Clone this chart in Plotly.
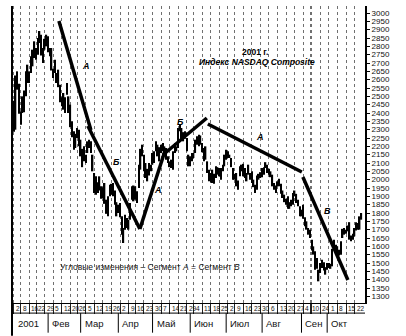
import plotly.graph_objects as go

# ---- data (NASDAQ Composite, daily bars Jan 2 – Oct 26, 2001; x = trading-day index) ----
day_high = [2474, 2625, 2650, 2575, 2410, 2500, 2535, 2650, 2690, 2650,
            2740, 2780, 2830, 2790, 2850, 2892, 2870, 2790, 2845, 2870,
            2860, 2790, 2790, 2665, 2720, 2640, 2660, 2570, 2495, 2520,
            2495, 2580, 2500, 2450, 2350, 2290, 2275, 2310, 2300, 2240,
            2185, 2200, 2150, 2230, 2240, 2230, 2150, 2040, 2020, 1985,
            2020, 1960, 1955, 1980, 1880, 1900, 1970, 1975, 1980, 1935,
            1865, 1850, 1860, 1780, 1710, 1790, 1770, 1760, 1860, 1960,
            1965, 1960, 1930, 2090, 2185, 2210, 2150, 2100, 2065, 2100,
            2090, 2160, 2170, 2230, 2210, 2195, 2210, 2220, 2200, 2190,
            2140, 2110, 2120, 2170, 2220, 2200, 2310, 2330, 2310, 2285,
            2290, 2250, 2150, 2140, 2160, 2160, 2240, 2260, 2270, 2265,
            2220, 2190, 2200, 2110, 2060, 2040, 2060, 2035, 2080, 2075,
            2070, 2070, 2090, 2150, 2180, 2170, 2150, 2130, 2070, 2035,
            2040, 1995, 2080, 2090, 2095, 2070, 2040, 2090, 2040, 2050,
            2000, 1970, 2025, 2035, 2045, 2070, 2075, 2105, 2090, 2065,
            2050, 2030, 1980, 1965, 1990, 2005, 1975, 1935, 1910, 1885,
            1900, 1865, 1880, 1920, 1935, 1915, 1880, 1840, 1820, 1850,
            1775, 1750, 1710, 1700, 1640, 1600, 1570, 1530, 1460, 1500,
            1520, 1505, 1475, 1500, 1500, 1495, 1585, 1640, 1610, 1600,
            1580, 1630, 1705, 1710, 1700, 1725, 1745, 1665, 1675, 1710,
            1745, 1740, 1780, 1800]
day_low = [2288, 2300, 2540, 2395, 2330, 2400, 2405, 2500, 2580, 2580,
           2640, 2680, 2730, 2720, 2750, 2820, 2745, 2700, 2780, 2800,
           2765, 2740, 2655, 2610, 2640, 2580, 2555, 2465, 2440, 2420,
           2400, 2510, 2400, 2315, 2255, 2180, 2190, 2250, 2200, 2140,
           2075, 2110, 2100, 2160, 2190, 2160, 2050, 1920, 1910, 1920,
           1935, 1885, 1890, 1855, 1795, 1780, 1900, 1910, 1900, 1850,
           1780, 1800, 1775, 1670, 1620, 1700, 1710, 1700, 1760, 1880,
           1870, 1880, 1860, 1950, 2060, 2140, 2050, 2010, 1990, 2025,
           2050, 2090, 2100, 2170, 2140, 2110, 2160, 2170, 2150, 2120,
           2100, 2075, 2070, 2060, 2160, 2170, 2190, 2290, 2240, 2230,
           2245, 2170, 2080, 2080, 2110, 2130, 2160, 2210, 2200, 2210,
           2165, 2110, 2120, 2040, 1990, 1985, 1980, 1975, 2010, 2030,
           2020, 2000, 2050, 2080, 2120, 2130, 2130, 2075, 2000, 2000,
           1960, 1940, 2020, 2050, 2020, 2010, 1990, 2030, 2000, 1980,
           1955, 1920, 1940, 2000, 2010, 2015, 2030, 2070, 2040, 2030,
           2015, 1960, 1940, 1920, 1960, 1960, 1915, 1890, 1865, 1850,
           1825, 1825, 1840, 1850, 1900, 1860, 1840, 1780, 1780, 1765,
           1720, 1700, 1670, 1650, 1575, 1550, 1460, 1465, 1390, 1440,
           1470, 1455, 1430, 1460, 1470, 1465, 1480, 1580, 1565, 1560,
           1545, 1550, 1650, 1670, 1675, 1690, 1640, 1630, 1640, 1660,
           1695, 1700, 1700, 1760]
day_index = list(range(len(day_high)))

# week-start trading-day indices and their day-of-month labels
week_idx = [0, 4, 9, 13, 18, 23, 28, 33, 37, 42, 47, 52, 57, 62, 67, 71, 76, 81,
            86, 91, 96, 101, 105, 110, 115, 120, 125, 129, 134, 139, 144, 149,
            154, 159, 164, 169, 173, 174, 179, 184, 189, 194, 199]
week_lbl = ["2", "8", "16", "22", "29", "5", "12", "20", "26", "5", "12", "19",
            "26", "2", "9", "16", "23", "30", "7", "14", "21", "29", "4", "11",
            "18", "25", "2", "9", "16", "23", "30", "6", "13", "20", "27", "4",
            "10", "", "24", "1", "8", "15", "22"]

# month starts (trading-day index) and names
month_idx = [0, 21, 40, 62, 82, 104, 125, 146, 169, 184]
month_lbl = ["2001", "Фев", "Мар", "Апр", "Май", "Июн", "Июл", "Авг", "Сен", "Окт"]

# y ticks
y_ticks = list(range(1300, 3001, 50))

# hand-drawn angle segments: (x0, y0, x1, y1) in (day index, price)
seg_x0 = [26.3, 43.2, 73.6, 87.0, 113.3, 168.8]
seg_y0 = [2952, 2322, 1704, 2148, 2334, 2016]
seg_x1 = [45.0, 73.6, 88.8, 112.7, 168.2, 195.1]
seg_y1 = [2298, 1704, 2190, 2370, 2046, 1398]
seg_lbl = ["A", "Б", "A", "Б", "A", "В"]
seg_lbl_x = [42.0, 60.2, 84.1, 97.5, 143.7, 183.4]
seg_lbl_y = [2682, 2106, 1938, 2346, 2256, 1812]

# ---- figure ----
bar_span = [h - l for h, l in zip(day_high, day_low)]
fig = go.Figure(go.Bar(x=day_index, y=bar_span, base=day_low, width=0.85,
                       marker=dict(color="black", line=dict(width=0))))

narrow = "Liberation Sans Narrow, Arial Narrow, Liberation Sans, Arial, sans-serif"
sans = "Liberation Sans, Arial, sans-serif"

fig.update_layout(
    width=406, height=336,
    margin=dict(l=12, r=41, t=6, b=33),
    paper_bgcolor="white", plot_bgcolor="white",
    showlegend=False,
    xaxis=dict(range=[-1.1, 205.1], tickvals=week_idx, showticklabels=False,
               ticks="outside", ticklen=10, tickcolor="#222", tickwidth=1,
               showgrid=True, gridcolor="#707070", griddash="dot", gridwidth=1,
               showline=True, linecolor="black", linewidth=1, zeroline=False,
               fixedrange=True),
    yaxis=dict(side="right", range=[1260, 3042], tickvals=y_ticks,
               ticktext=[str(v) for v in y_ticks],
               ticks="outside", ticklen=3, tickcolor="black",
               showline=True, linecolor="black", linewidth=2,
               showgrid=False, zeroline=False,
               tickfont=dict(size=8, family=narrow, color="#111")),
)

shapes = []
# left border
shapes.append(dict(type="line", xref="paper", yref="paper", x0=0, x1=0, y0=-0.11, y1=1.0,
                   line=dict(color="black", width=2)))
# strip line under day labels
shapes.append(dict(type="line", xref="paper", yref="paper", x0=0, x1=1, y0=-0.034, y1=-0.034,
                   line=dict(color="black", width=1)))
# month separators
for m in month_idx[1:]:
    shapes.append(dict(type="line", xref="x", yref="paper", x0=m - 1, x1=m - 1,
                       y0=-0.034, y1=-0.1, line=dict(color="black", width=1)))
# angle segments
for a, b, c, d in zip(seg_x0, seg_y0, seg_x1, seg_y1):
    shapes.append(dict(type="line", xref="x", yref="y", x0=a, y0=b, x1=c, y1=d,
                       line=dict(color="black", width=3.5)))
fig.update_layout(shapes=shapes)

ann = []
for xi, t in zip(week_idx, week_lbl):
    if t:
        ann.append(dict(x=xi, y=-0.017, xref="x", yref="paper", text=t, showarrow=False,
                        xanchor="left", yanchor="middle", xshift=0,
                        font=dict(size=6.5, family=narrow, color="#111")))
for i, (m, t) in enumerate(zip(month_idx, month_lbl)):
    ann.append(dict(x=m - 1 if i else 0, y=-0.07, xref="x", yref="paper", text=t,
                    showarrow=False, xanchor="left", yanchor="middle", xshift=2,
                    font=dict(size=9.5, family=sans, color="#111")))
for xi, yi, t in zip(seg_lbl_x, seg_lbl_y, seg_lbl):
    ann.append(dict(x=xi, y=yi, xref="x", yref="y", text="<b><i>" + t + "</i></b>",
                    showarrow=False, font=dict(size=9, family=sans, color="black")))
ann.append(dict(x=140.8, y=2765, xref="x", yref="y", text="<b>2001 г.</b>", showarrow=False,
                font=dict(size=8.5, family=sans, color="black")))
ann.append(dict(x=142, y=2708, xref="x", yref="y",
                text="<b><i>Индекс NASDAQ Composite</i></b>", showarrow=False,
                font=dict(size=8.5, family=sans, color="black")))
ann.append(dict(x=79.4, y=1476, xref="x", yref="y",
                text="Угловые изменения – Сегмент <i>А</i> = Сегмент <i>В</i>",
                showarrow=False, font=dict(size=8.5, family=sans, color="#111")))
fig.update_layout(annotations=ann)

fig.write_html("out.html")
